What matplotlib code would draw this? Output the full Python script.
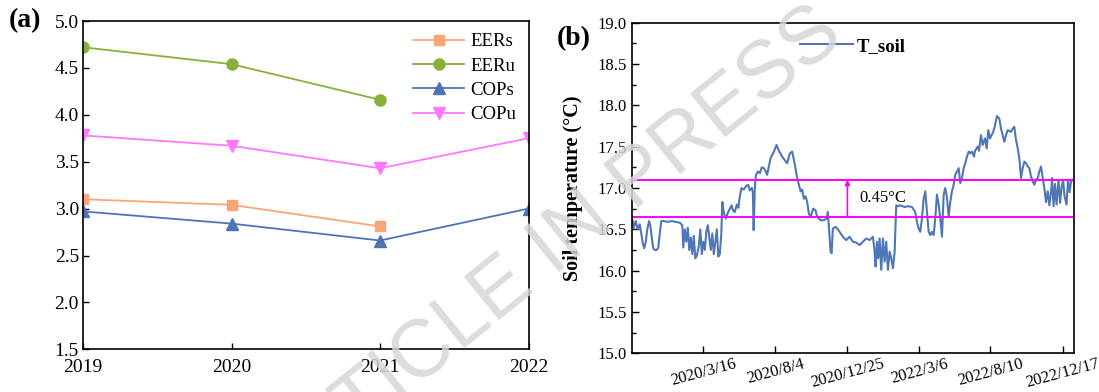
import matplotlib.pyplot as plt
from matplotlib.ticker import MultipleLocator
from matplotlib.transforms import ScaledTranslation

plt.rcParams['font.family'] = ['Liberation Serif', 'DejaVu Serif']

# (a) yearly efficiency values
years = [2019, 2020, 2021, 2022]
eer_s = [3.10, 3.04, 2.81]
eer_u = [4.72, 4.54, 4.16]
cop_s = [2.97, 2.84, 2.66, 3.00]
cop_u = [3.78, 3.67, 3.43, 3.75]

# (b) soil temperature, record index vs value
t_idx = [0, 1.5, 3.5, 5.5, 7.5, 9, 10.5, 12, 13.5, 15, 16.8, 18, 19.5, 21, 22.5, 24.5, 26, 27.5, 29,
         31.5, 35.5, 39.5, 43.5, 47.5, 50, 51, 52.5, 54, 55.5, 57, 58.5, 60, 61.5, 63, 64.5,
         66.5, 68, 69.5, 71, 72.5, 74, 75.5, 77, 78.5, 80, 81.5, 83, 84.5, 86, 87.5, 89, 90,
         91.5, 93.5, 95.5, 97.5, 99.2, 101, 102.5, 104.5, 106, 107.5, 109.2, 111.5, 113.5, 115.8,
         117.5, 119.5, 120.5, 121.3, 122.5, 123.5, 125.5, 127.5, 129.5, 131.5,
         133.5, 134.8, 138.2, 141.5, 144.2, 146.5, 149.8, 152.2, 154.8, 157.5, 159.8, 162.2,
         164.8, 166.5, 168.2, 169.8, 171.5, 173.2, 174.8, 176.5, 178.2, 180.8, 183.2, 184.8,
         188.2, 191.5, 194.2, 195.5, 196.8, 198.2, 199.2, 200.5,
         203.5, 207.2, 210.5, 213.8, 217.2, 220.5, 223.8, 227.2, 230.5, 233.8, 237.2, 240.5,
         242.2, 243.2, 244.5, 245.8, 247.2, 248.8, 250.5, 252.2, 253.8, 255.5, 257.2, 258.8,
         260.5, 262.2, 263.8, 265.5, 267.5, 272.5,
         275.5, 279.5, 282.8, 284.5, 286.2, 287.8, 289.5, 291.2, 292.8, 294.5, 296.2, 297.8,
         299.5, 301.2, 302.8, 304.5, 306.2, 307.8, 309.5, 311.2, 312.8, 314.5, 316.2, 317.8,
         319.5, 321.2, 322.8, 324.5, 326.2, 327.8, 329.5, 331.2, 332.8, 334.5, 336.2, 337.8,
         339.5, 341.5,
         342.5, 345.2, 346.5, 348.5, 350.2, 352.5, 354.2, 355.8, 357.5, 359.2, 360.8, 362.5,
         364.5, 366.8, 368.5, 370.2, 371.8, 373.5, 375.2, 378.5, 380.2, 381.8, 383.5, 385.2,
         386.8, 388.5, 390.2, 391.8, 393.5, 395.2, 396.8, 398.5, 400.2, 401.8, 403.5, 405.2,
         406.8, 408.5, 410.2, 411.8, 413.5, 415.2, 416.8, 418.5, 419.5, 421, 422.5, 424, 426,
         427.5, 429, 430.5, 432, 434, 435.5, 437, 438.5, 440.5]
t_soil = [16.63, 16.52, 16.60, 16.50, 16.56, 16.45, 16.33, 16.27, 16.35, 16.50, 16.60, 16.55, 16.40,
          16.27, 16.25, 16.25, 16.28, 16.45, 16.60,
          16.60, 16.59, 16.60, 16.59, 16.58, 16.55, 16.28, 16.50, 16.35, 16.52, 16.25, 16.40, 16.20,
          16.42, 16.15, 16.18,
          16.30, 16.50, 16.20, 16.35, 16.25, 16.47, 16.55, 16.40, 16.25, 16.45, 16.20, 16.35, 16.50,
          16.17, 16.20, 16.45, 16.83,
          16.70, 16.63, 16.70, 16.75, 16.79, 16.72, 16.71, 16.80, 16.76, 16.90, 17.00, 16.98, 17.02,
          17.04, 16.97, 17.00, 16.95, 16.49, 17.00, 17.15, 17.20, 17.18, 17.25, 17.24,
          17.20, 17.16, 17.36, 17.44, 17.52, 17.45, 17.38, 17.34, 17.30, 17.42, 17.44, 17.30,
          17.12, 17.04, 16.96, 16.98, 16.87, 16.90, 16.83, 16.69, 16.65, 16.75, 16.73, 16.65,
          16.61, 16.61, 16.63, 16.71, 16.47, 16.23, 16.21, 16.51,
          16.53, 16.47, 16.41, 16.37, 16.41, 16.35, 16.34, 16.31, 16.35, 16.39, 16.37, 16.41,
          16.23, 16.05, 16.35, 16.15, 16.39, 16.01, 16.39, 16.11, 16.35, 16.01, 16.23, 16.15,
          16.03, 16.23, 16.79, 16.78, 16.79, 16.77,
          16.78, 16.77, 16.71, 16.59, 16.51, 16.47, 16.63, 16.87, 16.96, 16.71, 16.47, 16.43,
          16.47, 16.43, 16.63, 16.92, 16.80, 16.63, 16.41, 16.92, 17.00, 16.88, 16.65, 16.83,
          16.96, 17.04, 17.16, 17.20, 17.24, 17.06, 17.12, 17.24, 17.30, 17.38, 17.44, 17.42,
          17.44, 17.38,
          17.45, 17.50, 17.45, 17.64, 17.52, 17.60, 17.48, 17.70, 17.60, 17.64, 17.68, 17.76,
          17.87, 17.84, 17.72, 17.64, 17.56, 17.64, 17.70, 17.68, 17.72, 17.74, 17.58, 17.48,
          17.36, 17.12, 17.24, 17.32, 17.30, 17.26, 17.24, 17.14, 17.08, 17.04, 17.10, 17.12,
          17.20, 17.26, 17.12, 17.00, 16.83, 16.96, 16.79, 16.95, 17.12, 16.78, 17.05, 16.80, 17.10,
          16.82, 17.00, 17.10, 16.90, 16.80, 17.10, 16.95, 17.08, 17.10]
date_ticks = [71, 143, 215, 287, 358, 430]
date_labels = ['2020/3/16', '2020/8/4', '2020/12/25', '2022/3/6', '2022/8/10', '2022/12/17']
band_low, band_high = 16.65, 17.10

fig = plt.figure(figsize=(10.99, 3.92), dpi=100)
ax1 = fig.add_axes([0.0756, 0.1089, 0.4053, 0.8375])
ax2 = fig.add_axes([0.5753, 0.0987, 0.4020, 0.8434])

# ---- panel (a)
ax1.plot(years[:3], eer_s, color='#F8A677', marker='s', ms=7, lw=1.3, label='EERs')
ax1.plot(years[:3], eer_u, color='#86B13A', marker='o', ms=8, lw=1.3, label='EERu')
ax1.plot(years, cop_s, color='#4E74B6', marker='^', ms=8, lw=1.3, label='COPs')
ax1.plot(years, cop_u, color='#FF78FF', marker='v', ms=8, lw=1.3, label='COPu')
ax1.set_xlim(2019, 2022)
ax1.set_ylim(1.5, 5.0)
ax1.set_xticks(years)
ax1.yaxis.set_major_locator(MultipleLocator(0.5))
ax1.tick_params(direction='in', length=4, width=1, labelsize=14, pad=3)
ax1.tick_params(axis='x', pad=7)
ax1.legend(loc='upper right', frameon=False, fontsize=13.5, handlelength=2.7,
           borderaxespad=0.25, labelspacing=0.38, handletextpad=0.35)
fig.text(0.008, 0.93, '(a)', fontsize=20, fontweight='bold')

# ---- panel (b)
ax2.plot(t_idx, t_soil, color='#4F77B6', lw=1.5, label='T_soil')
ax2.axhline(band_high, color='#FF00FF', lw=1.4)
ax2.axhline(band_low, color='#FF00FF', lw=1.4)
ax2.annotate('', xy=(date_ticks[2], band_high), xytext=(date_ticks[2], band_low),
             arrowprops=dict(arrowstyle='-|>', color='#FF00FF', lw=1.2, mutation_scale=7,
                             shrinkA=0, shrinkB=0))
ax2.text(date_ticks[2] + 12, (band_low + band_high) / 2, '%.2f°C' % (band_high - band_low),
         fontsize=12, va='center')
ax2.set_xlim(0, 441.5)
ax2.set_ylim(15.0, 19.0)
ax2.set_xticks(date_ticks)
ax2.set_xticklabels(date_labels, rotation=15, ha='center')
shift = ScaledTranslation(-6 / 100, 0, fig.dpi_scale_trans)
for lbl in ax2.get_xticklabels():
    lbl.set_transform(lbl.get_transform() + shift)
ax2.yaxis.set_major_locator(MultipleLocator(0.5))
ax2.yaxis.set_minor_locator(MultipleLocator(0.25))
ax2.tick_params(direction='in', length=5, width=1, labelsize=12, pad=4)
ax2.tick_params(which='minor', direction='in', length=3, width=1)
ax2.tick_params(axis='x', pad=2)
ax2.set_ylabel('Soil temperature (°C)', fontsize=14.5, fontweight='bold', labelpad=10)
ax2.legend(loc='upper center', frameon=False, prop={'size': 13.5, 'weight': 'bold'},
           handlelength=2.8, handletextpad=0.25, borderaxespad=0.4)
fig.text(0.507, 0.885, '(b)', fontsize=20, fontweight='bold')

for ax in (ax1, ax2):
    for sp in ax.spines.values():
        sp.set_linewidth(1.2)

# watermark
fig.text(0.497, 0.35, 'ARTICLE IN PRESS', fontsize=58, family='Liberation Sans',
         color='#d6d6d6', alpha=0.85, rotation=39, ha='center', va='center')

fig.savefig('out.png', dpi=100)
